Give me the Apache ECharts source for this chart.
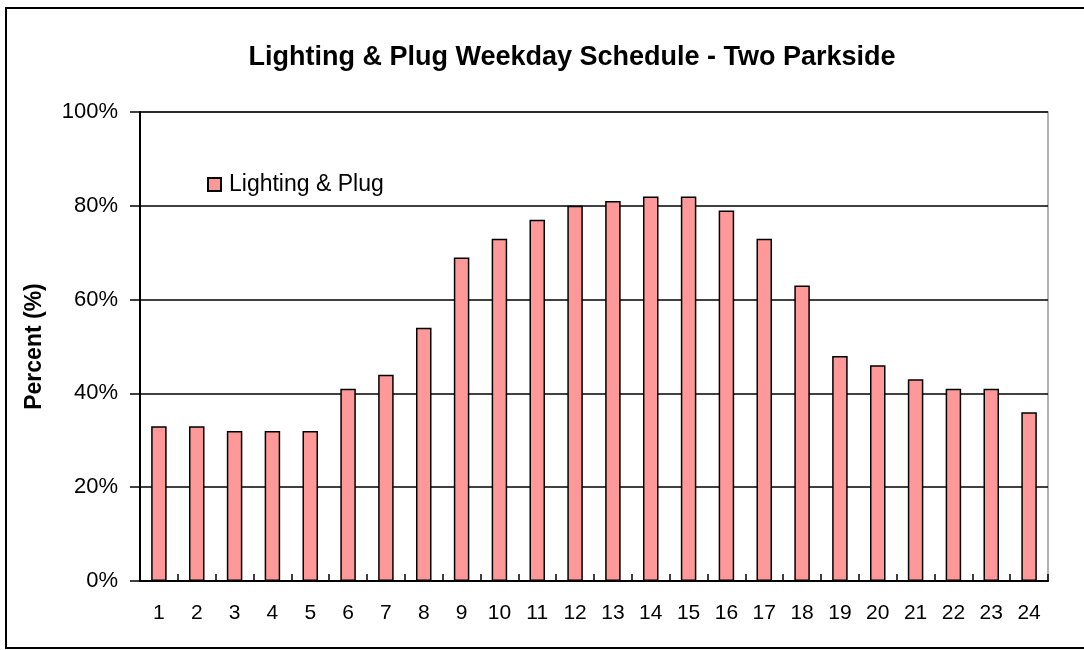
<!DOCTYPE html>
<html>
<head>
<meta charset="utf-8">
<script src="https://cdn.jsdelivr.net/npm/echarts@6/dist/echarts.min.js"></script>
<style>
html,body{margin:0;padding:0;background:#fff;}
#chart{width:1084px;height:650px;}
</style>
</head>
<body>
<div id="chart"></div>
<script>
const hours = ['1','2','3','4','5','6','7','8','9','10','11','12','13','14','15','16','17','18','19','20','21','22','23','24'];
const lightingPlug = [33,33,32,32,32,41,44,54,69,73,77,80,81,82,82,79,73,63,48,46,43,41,41,36];
const yTicks = [0,20,40,60,80,100];

const chart = echarts.init(document.getElementById('chart'), null, {renderer:'canvas'});
const font = 'Liberation Sans, Arial, sans-serif';
chart.setOption({
  animation:false,
  backgroundColor:'#fff',
  title:{
    text:'Lighting & Plug Weekday Schedule - Two Parkside',
    left:567, textAlign:'center', top:39,
    textStyle:{fontFamily:font,fontSize:27,fontWeight:'bold',color:'#000'}
  },
  graphic:[{
    type:'rect', shape:{x:6,y:8,width:1100,height:640},
    style:{fill:'none',stroke:'#000',lineWidth:2}, z:-1
  }],
  legend:{
    data:['Lighting & Plug'],
    left:180, top:165,
    padding:[8,20,8,27],
    backgroundColor:'#fff',
    icon:'rect',
    itemWidth:13, itemHeight:13, itemGap:8,
    textStyle:{fontFamily:font,fontSize:23,color:'#000',padding:[0,0,0,3]}
  },
  grid:{
    left:140, right:36, top:112, bottom:69,
    show:true, borderColor:'#999', borderWidth:1.5, backgroundColor:'transparent'
  },
  xAxis:{
    type:'category', data:hours,
    axisLine:{lineStyle:{color:'#000',width:2}},
    axisTick:{show:true,inside:true,length:7,lineStyle:{color:'#000',width:1.5}},
    axisLabel:{margin:22,fontFamily:font,fontSize:21,color:'#000'},
    splitLine:{show:false}
  },
  yAxis:{
    type:'value', min:0, max:100, interval:20,
    name:'Percent (%)', nameLocation:'middle', nameGap:94,
    nameTextStyle:{fontFamily:font,fontSize:23,fontWeight:'bold',color:'#000'},
    axisLine:{show:true,lineStyle:{color:'#000',width:2}},
    axisTick:{show:true,inside:false,length:10,lineStyle:{color:'#000',width:1.5}},
    axisLabel:{margin:22,fontFamily:font,fontSize:22,color:'#000',
      formatter:function(v){return yTicks.indexOf(v)>=0 ? v+'%' : '';}},
    splitLine:{show:true,lineStyle:{color:'#000',width:1.5}}
  },
  series:[{
    name:'Lighting & Plug', type:'bar', data:lightingPlug,
    barWidth:'41%',
    itemStyle:{color:'#FF9999',borderColor:'#000',borderWidth:1.5}
  }]
});
</script>
</body>
</html>
